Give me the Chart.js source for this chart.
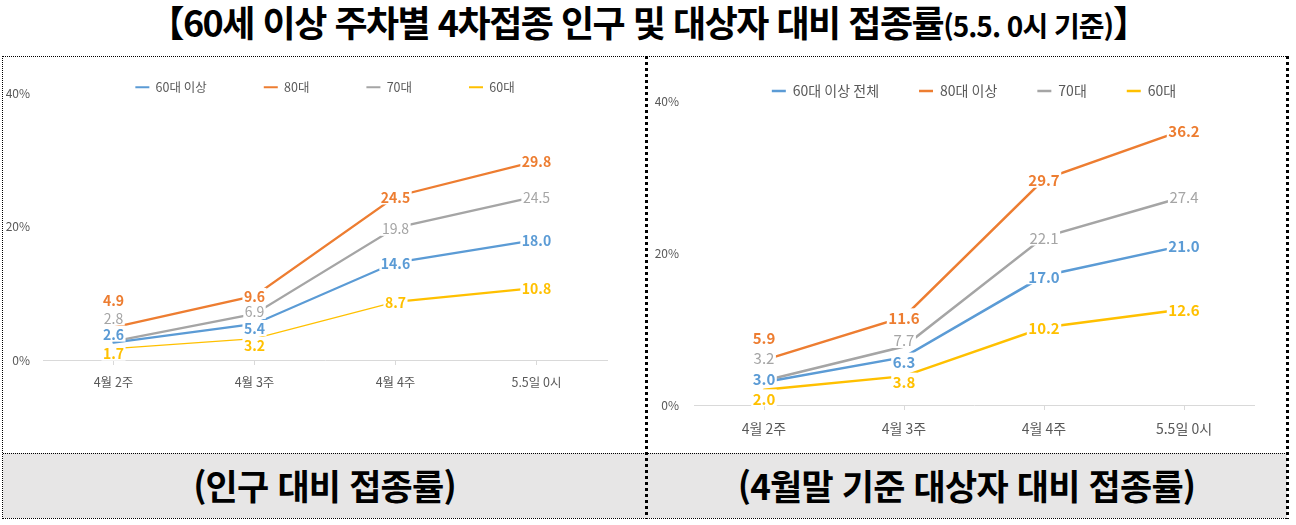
<!DOCTYPE html>
<html lang="ko">
<head>
<meta charset="utf-8">
<script src="https://cdn.jsdelivr.net/npm/chart.js@4.4.1/dist/chart.umd.min.js"></script>
<style>
  html, body { margin: 0; padding: 0; background: #fff; }
  body { width: 1296px; height: 525px; position: relative; overflow: hidden;
         font-family: 'Noto Sans CJK KR', 'Noto Sans', sans-serif; }
  #title { position: absolute; left: 0; top: 0; width: 1296px; height: 42px; line-height: 42px;
           text-align: center; font-size: 36px; font-weight: 700; letter-spacing: -1.5px; white-space: nowrap; }
  #title small { font-size: 28px; letter-spacing: -1px; }
  .frame { position: absolute; left: 2px; top: 56px; width: 1286px; height: 463px; box-sizing: border-box;
           border-top: 1px dotted #000; border-left: 1px dotted #000; border-bottom: 1px dotted #000; }
  .heavy { position: absolute; top: 56px; width: 3px; height: 463px;
           background: repeating-linear-gradient(to bottom, #000 0 3px, transparent 3px 6px); }
  .panel { position: absolute; top: 56px; height: 397px; }
  .caption { position: absolute; top: 453px; height: 65px; line-height: 62px; background: #e7e6e6;
             border-top: 1px dotted #000; box-sizing: border-box; text-align: center;
             font-size: 35px; font-weight: 700; letter-spacing: -0.8px; color: #000; }
</style>
</head>
<body>
<div id="title">【60세 이상 주차별 4차접종 인구 및 대상자 대비 접종률<small>(5.5. 0시 기준)</small>】</div>
<div class="frame"></div>
<div class="panel" style="left:2px;width:644px"><canvas id="popChart"></canvas></div>
<div class="panel" style="left:646px;width:642px"><canvas id="tgtChart"></canvas></div>
<div class="caption" style="left:3px;width:643px">(인구 대비 접종률)</div>
<div class="caption" style="left:646px;width:641px">(4월말 기준 대상자 대비 접종률)</div>
<div class="heavy" style="left:645px"></div>
<div class="heavy" style="left:1286px"></div>

<script>
// chart data
const weeks = ['4월 2주', '4월 3주', '4월 4주', '5.5일 0시'];
const popNames = ['60대 이상', '80대', '70대', '60대'];
const tgtNames = ['60대 이상 전체', '80대 이상', '70대', '60대'];
const popAll = [2.6, 5.4, 14.6, 18.0];
const pop80 = [4.9, 9.6, 24.5, 29.8];
const pop70 = [2.8, 6.9, 19.8, 24.5];
const pop60 = [1.7, 3.2, 8.7, 10.8];
const tgtAll = [3.0, 6.3, 17.0, 21.0];
const tgt80 = [5.9, 11.6, 29.7, 36.2];
const tgt70 = [3.2, 7.7, 22.1, 27.4];
const tgt60 = [2.0, 3.8, 10.2, 12.6];
const yTicks = [0, 20, 40];

const colors = ['#5B9BD5', '#ED7D31', '#A5A5A5', '#FFC000'];

Chart.defaults.font.family = "'Noto Sans CJK KR', 'Noto Sans', sans-serif";
Chart.defaults.color = '#595959';

// legend keeps its wide item gap but not the tall box that comes with it
const legendFit = {
  id: 'legendFit',
  beforeInit(chart) {
    const fit = chart.legend.fit;
    chart.legend.fit = function () {
      fit.bind(chart.legend)();
      this.height = chart.options.plugins.legendFit.height;
    };
  }
};

// value labels with white box, like the excel labels that cut the lines
const valueLabels = {
  id: 'valueLabels',
  afterDatasetsDraw(chart, args, opts) {
    const ctx = chart.ctx;
    const items = [];
    chart.data.datasets.forEach((ds, di) => {
      const meta = chart.getDatasetMeta(di);
      const font = (ds.labelBold ? 'bold ' : '') + opts.size + "px 'Noto Sans CJK KR', 'Noto Sans', sans-serif";
      meta.data.forEach((pt, i) => {
        const shift = ds.labelShift ? ds.labelShift[i] : 0;
        items.push({ text: ds.data[i].toFixed(1), x: pt.x, y: pt.y + shift, font, color: ds.borderColor });
      });
    });
    ctx.save();
    ctx.textAlign = 'center';
    ctx.textBaseline = 'middle';
    items.forEach(it => {
      ctx.font = it.font;
      const w = ctx.measureText(it.text).width + 3;
      const h = opts.size + 2;
      ctx.fillStyle = '#fff';
      ctx.fillRect(it.x - w / 2, it.y - h / 2, w, h);
    });
    items.forEach(it => {
      ctx.font = it.font;
      ctx.fillStyle = it.color;
      ctx.fillText(it.text, it.x, it.y + 1);
    });
    ctx.restore();
  }
};

function makeDataset(name, values, color, width, shift) {
  return {
    label: name,
    data: values,
    borderColor: color,
    backgroundColor: color,
    borderWidth: width,
    pointRadius: 0,
    tension: 0,
    borderCapStyle: 'round',
    labelBold: color !== colors[2],
    labelShift: shift
  };
}

function createChart(id, names, series, s) {
  const datasets = series.map((values, i) =>
    makeDataset(names[i], values, colors[i], s.lineWidth, s.shifts[i]));
  if (s.thinLast) {
    // the 60대 line is thin until 4월 4주
    datasets[3].segment = { borderWidth: c => c.p1DataIndex < 3 ? 1.2 : s.lineWidth };
  }
  return new Chart(document.getElementById(id), {
    type: 'line',
    data: { labels: weeks, datasets },
    plugins: [legendFit, valueLabels],
    options: {
      responsive: true,
      maintainAspectRatio: false,
      animation: false,
      layout: { padding: { top: s.padTop, right: s.padRight, bottom: s.padBottom, left: 0 } },
      plugins: {
        tooltip: { enabled: false },
        legendFit: { height: s.legendHeight },
        valueLabels: { size: s.labelSize },
        legend: {
          position: 'top',
          fullSize: false,
          labels: {
            boxWidth: 14,
            boxHeight: s.boxHeight,
            padding: s.legendGap,
            color: '#595959',
            font: { size: s.legendSize },
            generateLabels(chart) {
              return Chart.defaults.plugins.legend.labels.generateLabels(chart)
                .map(item => Object.assign(item, { lineWidth: 0 }));
            }
          }
        }
      },
      scales: {
        x: {
          offset: true,
          grid: { display: true, drawOnChartArea: false, drawTicks: true, tickLength: 5, color: '#d9d9d9' },
          border: { display: true, color: '#d9d9d9' },
          ticks: { padding: s.xPad, font: { size: s.tickSize }, color: '#595959' },
          afterFit(scale) { scale.height = s.xHeight; }
        },
        y: {
          min: 0,
          max: 40,
          grid: { display: false, drawTicks: false },
          border: { display: false },
          afterBuildTicks(scale) { scale.ticks = yTicks.map(v => ({ value: v })); },
          ticks: { padding: s.yPad, font: { size: 12 }, color: '#595959', callback: v => v + '%' },
          afterFit(scale) { scale.width = s.yWidth; }
        }
      }
    }
  });
}

createChart('popChart', popNames, [popAll, pop80, pop70, pop60], {
  lineWidth: 2.25, thinLast: true, labelSize: 14,
  shifts: [[-9, 4, 0, 0], [-28, 0, 0, 0], [-24, -3, 0, 0], [4, 6, 0, 0]],
  padTop: -32, padRight: 39, padBottom: 63, legendHeight: 69,
  legendGap: 57, legendSize: 12.5, boxHeight: 2,
  tickSize: 12.5, xPad: 9.5, xHeight: 30, yPad: 13, yWidth: 41
});

createChart('tgtChart', tgtNames, [tgtAll, tgt80, tgt70, tgt60], {
  lineWidth: 2.5, thinLast: false, labelSize: 15,
  shifts: [[-4, 4, 0, 0], [-23, 0, 0, 0], [-23, -7, 0, 0], [8, 5, 0, 0]],
  padTop: -12, padRight: 34, padBottom: 15, legendHeight: 57,
  legendGap: 40, legendSize: 14, boxHeight: 2.5,
  tickSize: 14, xPad: 10.6, xHeight: 33, yPad: 15, yWidth: 48
});
</script>
</body>
</html>
